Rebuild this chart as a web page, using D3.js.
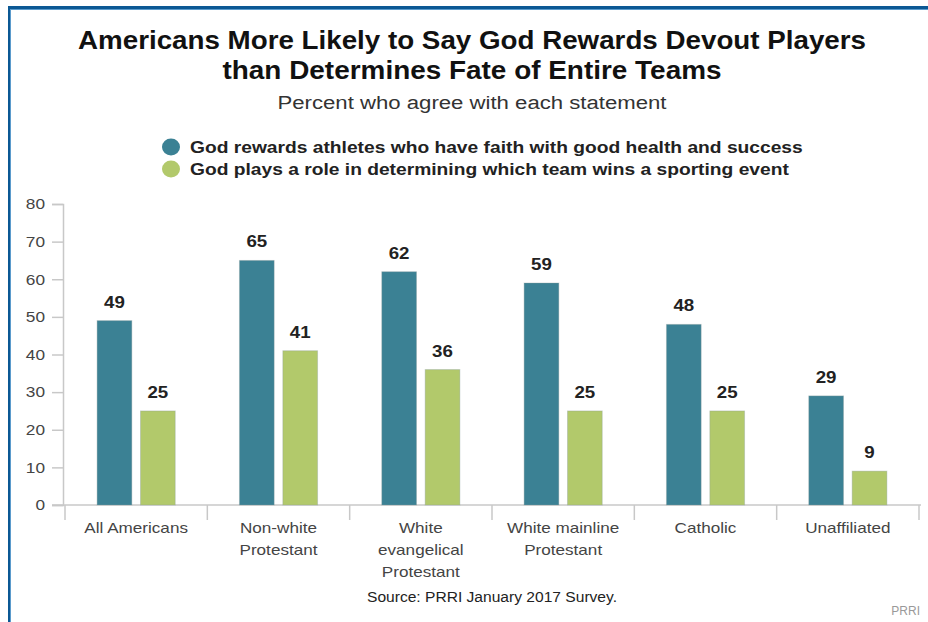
<!DOCTYPE html>
<html>
<head>
<meta charset="utf-8">
<script src="https://cdn.jsdelivr.net/npm/d3@7"></script>
<style>
  html, body { margin: 0; padding: 0; background: #fff; }
  #chart { width: 928px; height: 622px; }
  text { font-family: "Liberation Sans", Arial, sans-serif; }
</style>
</head>
<body>
<div id="chart"></div>
<script>
  /* ----------------------- Data ----------------------- */
  const categories = [
    "All Americans",
    "Non-white\nProtestant",
    "White\nevangelical\nProtestant",
    "White mainline\nProtestant",
    "Catholic",
    "Unaffiliated",
  ];
  const seriesNames = [
    "God rewards athletes who have faith with good health and success",
    "God plays a role in determining which team wins a sporting event",
  ];
  const rewardsValues = [49, 65, 62, 59, 48, 29];
  const determinesValues = [25, 41, 36, 25, 25, 9];
  const yTicks = [0, 10, 20, 30, 40, 50, 60, 70, 80];

  const colors = ["#3b8194", "#b2c96b"];

  const rows = categories.map((c, i) => ({
    category: c,
    values: [rewardsValues[i], determinesValues[i]],
  }));

  // the original type is a bit wider than Arial, so widen text horizontally
  const WIDEN = 1.2;
  function widen(sel, k = WIDEN) {
    sel.each(function () {
      const len = this.getComputedTextLength();
      d3.select(this).attr("textLength", len * k).attr("lengthAdjust", "spacingAndGlyphs");
    });
  }

  /* ----------------------- Layout ----------------------- */
  const W = 928, H = 622;
  const svg = d3.select("#chart").append("svg")
    .attr("width", W).attr("height", H);

  // frame: blue line along top and left
  svg.append("rect").attr("x", 8).attr("y", 6).attr("width", W - 8).attr("height", 3).attr("fill", "#0b5894");
  svg.append("rect").attr("x", 8).attr("y", 6).attr("width", 3).attr("height", H - 6).attr("fill", "#0b5894");
  svg.append("rect").attr("x", 11).attr("y", 9).attr("width", W - 11).attr("height", 1).attr("fill", "#5b9bcc");
  svg.append("rect").attr("x", 10).attr("y", 9).attr("width", 1).attr("height", H - 9).attr("fill", "#5b9bcc");

  /* ----------------------- Titles ----------------------- */
  const titleX = 472;
  svg.append("text").attr("x", titleX).attr("y", 49)
    .attr("text-anchor", "middle").attr("font-size", 26).attr("font-weight", "bold").attr("fill", "#111")
    .text("Americans More Likely to Say God Rewards Devout Players")
    .attr("textLength", 788).attr("lengthAdjust", "spacingAndGlyphs");
  svg.append("text").attr("x", titleX).attr("y", 79)
    .attr("text-anchor", "middle").attr("font-size", 26).attr("font-weight", "bold").attr("fill", "#111")
    .text("than Determines Fate of Entire Teams")
    .attr("textLength", 499).attr("lengthAdjust", "spacingAndGlyphs");
  svg.append("text").attr("x", titleX).attr("y", 109)
    .attr("text-anchor", "middle").attr("font-size", 18).attr("fill", "#333")
    .text("Percent who agree with each statement")
    .attr("textLength", 389).attr("lengthAdjust", "spacingAndGlyphs");

  /* ----------------------- Legend ----------------------- */
  const legend = svg.selectAll(".legend").data(seriesNames).enter().append("g")
    .attr("class", "legend")
    .attr("transform", (d, i) => `translate(171,${147 + i * 22})`);
  legend.append("ellipse").attr("rx", 9).attr("ry", 8.5).attr("fill", (d, i) => colors[i]);
  legend.append("text").attr("x", 19).attr("y", 6)
    .attr("font-size", 17).attr("font-weight", "bold").attr("fill", "#222")
    .text((d) => d)
    .call(widen, 1.13);

  /* ----------------------- Scales ----------------------- */
  const x = d3.scaleBand().domain(categories).range([65, 919]);
  const xSub = d3.scaleBand().domain([0, 1]).range([0, x.bandwidth()])
    .paddingInner(0.2).paddingOuter(0.74);
  const y = d3.scaleLinear().domain([0, 80]).range([505, 204]);

  /* ----------------------- Axes ----------------------- */
  const axisColor = "#c8c8c8";
  const yAxis = svg.append("g").attr("transform", "translate(63,0)")
    .call(d3.axisLeft(y).tickValues(yTicks).tickSize(11).tickPadding(7));
  yAxis.select(".domain").attr("stroke", axisColor).attr("stroke-width", 1.5);
  yAxis.selectAll(".tick line").attr("stroke", axisColor).attr("stroke-width", 1.5);
  yAxis.selectAll(".tick text").attr("font-size", 15).attr("fill", "#444")
    .attr("font-family", "Liberation Sans, Arial, sans-serif")
    .call(widen, 1.15);

  // baseline and category dividers
  const xAxis = svg.append("g").attr("transform", "translate(0,505)")
    .call(d3.axisBottom(x).tickSize(0).tickFormat(""));
  xAxis.select(".domain").remove();
  xAxis.append("line").attr("x1", 52).attr("x2", 921).attr("y1", 0).attr("y2", 0)
    .attr("stroke", axisColor).attr("stroke-width", 1.5);
  const dividers = categories.map((c) => x(c)).concat([x.range()[1]]);
  xAxis.selectAll(".divider").data(dividers).enter().append("line")
    .attr("class", "divider")
    .attr("x1", (d) => d).attr("x2", (d) => d).attr("y1", 0).attr("y2", 15)
    .attr("stroke", axisColor).attr("stroke-width", 1.5);

  // category labels
  const catLabels = svg.selectAll(".cat").data(categories).enter().append("text")
    .attr("class", "cat")
    .attr("text-anchor", "middle").attr("font-size", 15).attr("fill", "#444");
  catLabels.each(function (d) {
    const t = d3.select(this);
    d.split("\n").forEach((line, i) => {
      t.append("tspan").attr("x", x(d) + x.bandwidth() / 2)
        .attr("y", 533 + i * 22).text(line);
    });
  });
  catLabels.selectAll("tspan").call(widen, 1.14);

  /* ----------------------- Bars ----------------------- */
  const groups = svg.selectAll(".group").data(rows).enter().append("g")
    .attr("class", "group")
    .attr("transform", (d) => `translate(${x(d.category)},0)`);

  groups.selectAll("rect").data((d) => d.values).enter().append("rect")
    .attr("x", (d, i) => xSub(i))
    .attr("y", (d) => y(d))
    .attr("width", xSub.bandwidth())
    .attr("height", (d) => y(0) - y(d))
    .attr("fill", (d, i) => colors[i])
    .attr("stroke", "#8a9a9a").attr("stroke-opacity", 0.35).attr("stroke-width", 1);

  groups.selectAll(".val").data((d) => d.values).enter().append("text")
    .attr("class", "val")
    .attr("x", (d, i) => xSub(i) + xSub.bandwidth() / 2)
    .attr("y", (d) => y(d) - 13)
    .attr("text-anchor", "middle").attr("font-size", 17).attr("font-weight", "bold").attr("fill", "#222")
    .text((d) => d)
    .call(widen, 1.1);

  /* ----------------------- Footer ----------------------- */
  svg.append("text").attr("x", 492).attr("y", 602)
    .attr("text-anchor", "middle").attr("font-size", 14).attr("fill", "#222")
    .text("Source: PRRI January 2017 Survey.")
    .attr("textLength", 250).attr("lengthAdjust", "spacingAndGlyphs");
  svg.append("text").attr("x", 920).attr("y", 615)
    .attr("text-anchor", "end").attr("font-size", 12).attr("fill", "#999")
    .text("PRRI");
</script>
</body>
</html>
